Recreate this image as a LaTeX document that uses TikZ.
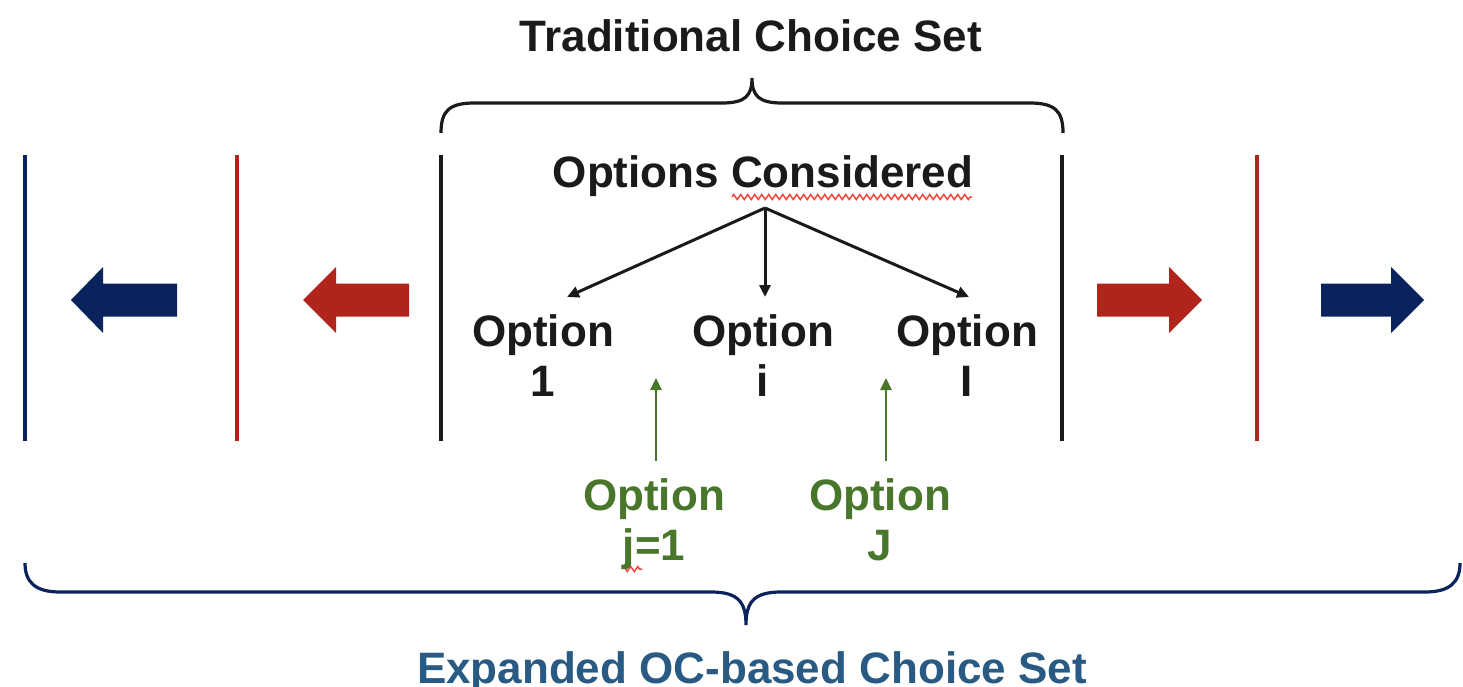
\documentclass[tikz,border=0pt]{standalone}
\usepackage{fontspec}
\setmainfont{Liberation Sans}
\usetikzlibrary{arrows.meta,decorations.pathmorphing}

\definecolor{navy}{HTML}{0B235C}
\definecolor{brick}{HTML}{B0241B}
\definecolor{leaf}{HTML}{48762B}
\definecolor{steel}{HTML}{285A84}
\definecolor{ink}{HTML}{1A1A1A}
\definecolor{squiggle}{HTML}{F04A3A}

\begin{document}
\begin{tikzpicture}[x=1pt,y=-1pt,
  lbl/.style={font=\fontsize{44}{50}\selectfont\bfseries, inner sep=0pt, anchor=base, text=ink},
  greenlbl/.style={lbl, text=leaf},
  bar/.style={line width=3.4pt},
  branch/.style={draw=ink, line width=3pt, -{Triangle[length=12pt,width=11pt]}},
  pointer/.style={draw=leaf, line width=2.6pt, -{Triangle[length=12pt,width=11pt]}},
  wavy/.style={draw=squiggle, line width=1.5pt, decorate,
    decoration={zigzag, amplitude=2.5pt, segment length=7pt}},
  curly/.style={line width=3.2pt}
]
\useasboundingbox (0,0) rectangle (1463,687);

% headings
\node[lbl] (trad) at (751,52) {Traditional Choice Set};
\node[lbl] (oc) at (763,188) {Options Considered};
\node[lbl, text=steel] (exp) at (752,683) {Expanded OC-based Choice Set};

% spell-check squiggles
\draw[wavy] (732,197) -- (972,197);
\draw[wavy] (622,569) -- (642,569);

% upper brace
\draw[curly, ink] (441,133) .. controls (441,110) and (450,103) .. (475,103)
  -- (722,103) .. controls (745,103) and (752,96) .. (752,78)
  .. controls (752,96) and (759,103) .. (782,103)
  -- (1029,103) .. controls (1054,103) and (1063,110) .. (1063,133);

% lower brace
\draw[curly, navy] (25,563) .. controls (25,582) and (35,592) .. (60,592)
  -- (711,592) .. controls (738,592) and (746,602) .. (746,625)
  .. controls (746,602) and (754,592) .. (781,592)
  -- (1425,592) .. controls (1450,592) and (1460,582) .. (1460,563);

% boundary bars
\draw[bar, navy] (25,155) -- (25,441);
\draw[bar, brick] (237,155) -- (237,441);
\draw[bar, ink] (441,155) -- (441,441);
\draw[bar, ink] (1062,155) -- (1062,441);
\draw[bar, brick] (1257,155) -- (1257,441);

% block arrows
\fill[navy] (71,300) -- (103,267) -- (103,283.5) -- (177,283.5) -- (177,316.5) -- (103,316.5) -- (103,333) -- cycle;
\fill[brick] (303,300) -- (336,267) -- (336,283.5) -- (409,283.5) -- (409,316.5) -- (336,316.5) -- (336,333) -- cycle;
\fill[brick] (1202,300) -- (1169,267) -- (1169,283.5) -- (1097,283.5) -- (1097,316.5) -- (1169,316.5) -- (1169,333) -- cycle;
\fill[navy] (1424,300) -- (1391,267) -- (1391,283.5) -- (1321,283.5) -- (1321,316.5) -- (1391,316.5) -- (1391,333) -- cycle;

% considered options
\node[lbl] (o1) at (543,346) {Option};
\node[lbl] (o1n) at (543,396) {1};
\node[lbl] (oi) at (763,346) {Option};
\node[lbl] (oin) at (763,396) {i};
\node[lbl] (oI) at (967,346) {Option};
\node[lbl] (oIn) at (967,396) {I};

\coordinate (root) at (765,208);
\coordinate (t1) at (567,297);
\coordinate (ti) at (765,297);
\coordinate (tI) at (969,297);
\draw[branch] (root) -- (t1);
\draw[branch] (root) -- (ti);
\draw[branch] (root) -- (tI);

% further options
\node[greenlbl] (gj) at (654,510) {Option};
\node[greenlbl] (gjn) at (654,560) {j=1};
\node[greenlbl] (gJ) at (880,510) {Option};
\node[greenlbl] (gJn) at (880,560) {J};

\coordinate (pj0) at (656,461);
\coordinate (pj1) at (656,378);
\coordinate (pJ0) at (886,461);
\coordinate (pJ1) at (886,378);
\draw[pointer] (pj0) -- (pj1);
\draw[pointer] (pJ0) -- (pJ1);
\end{tikzpicture}
\end{document}
